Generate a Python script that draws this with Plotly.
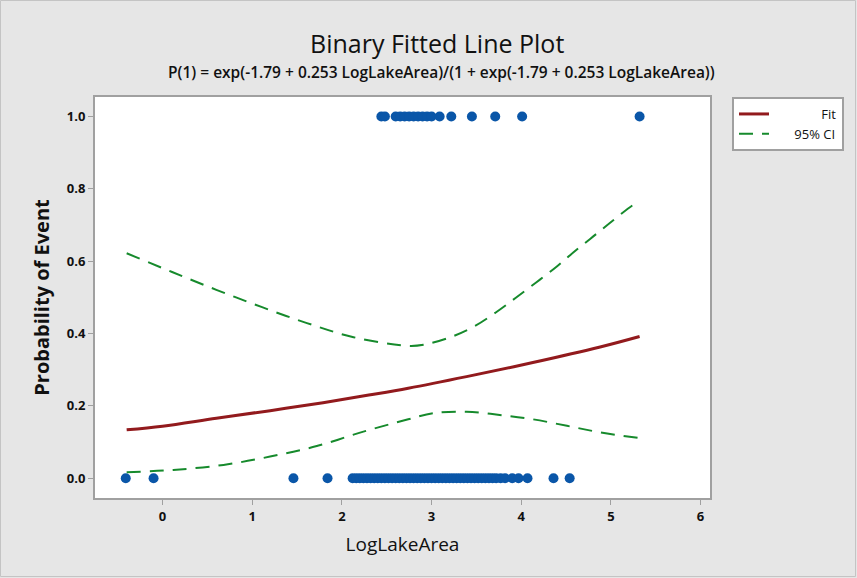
import plotly.graph_objects as go

# Observed data (events)
x_event = [2.44, 2.48, 2.60, 2.65, 2.70, 2.75, 2.80, 2.85, 2.90, 2.95, 3.00, 3.09, 3.22, 3.45, 3.71, 4.01, 5.32]
x_nonevent = [-0.41, -0.10, 1.46, 1.84, 2.12, 2.16, 2.20, 2.24, 2.28, 2.32, 2.36, 2.40, 2.44, 2.48, 2.52,
              2.56, 2.60, 2.64, 2.68, 2.72, 2.76, 2.80, 2.84, 2.88, 2.92, 2.96, 3.00, 3.04, 3.08, 3.12,
              3.16, 3.20, 3.24, 3.28, 3.32, 3.36, 3.40, 3.44, 3.48, 3.52, 3.56, 3.60, 3.64, 3.68, 3.72,
              3.77, 3.82, 3.90, 3.97, 4.07, 4.36, 4.54]

# Fitted line and 95% CI
fit_x = [-0.40, 0.0, 0.60, 1.20, 1.79, 2.30, 2.74, 3.39, 4.13, 4.88, 5.32]
fit_y = [0.134, 0.144, 0.166, 0.187, 0.209, 0.230, 0.249, 0.281, 0.320, 0.363, 0.392]

ci_x = [-0.40, 0.10, 0.60, 1.11, 1.61, 2.13, 2.74, 2.91, 3.21, 3.47, 3.72, 3.94, 4.17, 4.39, 4.58, 4.80, 5.03, 5.25, 5.32]
ci_up = [0.622, 0.571, 0.521, 0.473, 0.429, 0.390, 0.366, 0.369, 0.390, 0.419, 0.459, 0.499, 0.542, 0.584, 0.624, 0.668, 0.714, 0.756, 0.765]
ci_lo_x = [-0.40, 0.12, 0.68, 1.20, 1.72, 2.24, 2.74, 3.02, 3.39, 3.76, 4.13, 4.51, 4.88, 5.32]
ci_lo = [0.017, 0.023, 0.037, 0.060, 0.089, 0.129, 0.163, 0.180, 0.184, 0.175, 0.163, 0.145, 0.127, 0.111]

x_ticks = [0, 1, 2, 3, 4, 5, 6]
y_ticks = [0.0, 0.2, 0.4, 0.6, 0.8, 1.0]
y_ticklabels = ["0.0", "0.2", "0.4", "0.6", "0.8", "1.0"]

BLUE = "#0a56a8"
RED = "#921a1d"
GREEN = "#168a2c"
FONT = "Open Sans"

W, H = 857, 578
L, R, T, B = 95, 147, 97, 80
PW, PH = W - L - R, H - T - B

fig = go.Figure()
fig.add_trace(go.Scatter(x=x_event, y=[1.0] * len(x_event), mode="markers",
                         marker=dict(color=BLUE, size=10), showlegend=False, hoverinfo="x+y"))
fig.add_trace(go.Scatter(x=x_nonevent, y=[0.0] * len(x_nonevent), mode="markers",
                         marker=dict(color=BLUE, size=10), showlegend=False, hoverinfo="x+y"))
fig.add_trace(go.Scatter(x=fit_x, y=fit_y, mode="lines",
                         name="\u00a0\u00a0\u00a0\u00a0\u00a0\u00a0\u00a0\u00a0\u00a0\u00a0\u00a0\u00a0\u00a0\u00a0Fit",
                         line=dict(color=RED, width=3, shape="spline")))
fig.add_trace(go.Scatter(x=ci_x, y=ci_up, mode="lines", name="\u00a0\u00a0\u00a0\u00a0\u00a0\u00a095% CI",
                         line=dict(color=GREEN, width=2, dash="14px,9px", shape="spline")))
fig.add_trace(go.Scatter(x=ci_lo_x, y=ci_lo, mode="lines", name="95% CI", showlegend=False,
                         line=dict(color=GREEN, width=2, dash="14px,9px", shape="spline")))

fig.update_layout(
    width=W, height=H,
    paper_bgcolor="#e6e6e6", plot_bgcolor="white",
    margin=dict(l=L, r=R, t=T, b=B),
    font=dict(family=FONT, color="#111111", size=13),
    showlegend=True,
    legend=dict(x=(732 - L) / PW, y=1.0, xanchor="left", yanchor="top",
                bgcolor="white", bordercolor="#a0a0a0", borderwidth=2,
                font=dict(size=13, family=FONT), tracegroupgap=0),
    xaxis=dict(range=[-0.753, 6.105], tickvals=x_ticks, ticks="outside", ticklen=5,
               tickcolor="#a0a0a0", showgrid=False, zeroline=False,
               showline=True, mirror=True, linecolor="#a0a0a0", linewidth=2,
               tickfont=dict(size=13, family=FONT, weight="bold"),
               title=dict(text="LogLakeArea", font=dict(size=19, family=FONT), standoff=14)),
    yaxis=dict(range=[-0.0545, 1.054], tickvals=y_ticks, ticktext=y_ticklabels,
               ticks="outside", ticklen=5, tickcolor="#a0a0a0",
               showgrid=False, zeroline=False,
               showline=True, mirror=True, linecolor="#a0a0a0", linewidth=2,
               tickfont=dict(size=13, family=FONT, weight="bold"),
               title=dict(text="Probability of Event", font=dict(size=20, family=FONT, weight="bold"), standoff=12)),
    annotations=[
        dict(text="Binary Fitted Line Plot", xref="paper", yref="paper",
             x=(437 - L) / PW, y=1 + (T - 43) / PH, xanchor="center", yanchor="middle",
             showarrow=False, font=dict(size=25, family=FONT, color="#111111", weight=500)),
        dict(text="P(1) = exp(-1.79 + 0.253 LogLakeArea)/(1 + exp(-1.79 + 0.253 LogLakeArea))",
             xref="paper", yref="paper",
             x=(441 - L) / PW, y=1 + (T - 72) / PH, xanchor="center", yanchor="middle",
             showarrow=False, font=dict(size=15.5, family=FONT, color="#111111", weight=600)),
    ],
    shapes=[
        dict(type="rect", xref="paper", yref="paper", layer="below",
             x0=(0.5 - L) / PW, x1=(W - 1.5 - L) / PW,
             y0=-(B - 1.5) / PH, y1=1 + (T - 0.5) / PH,
             line=dict(color="#c4c4c4", width=1), fillcolor="rgba(0,0,0,0)"),
    ],
)

fig.write_html("out.html", config={"displayModeBar": False},
               post_script="document.body.style.margin='0';document.body.style.overflow='hidden';")
